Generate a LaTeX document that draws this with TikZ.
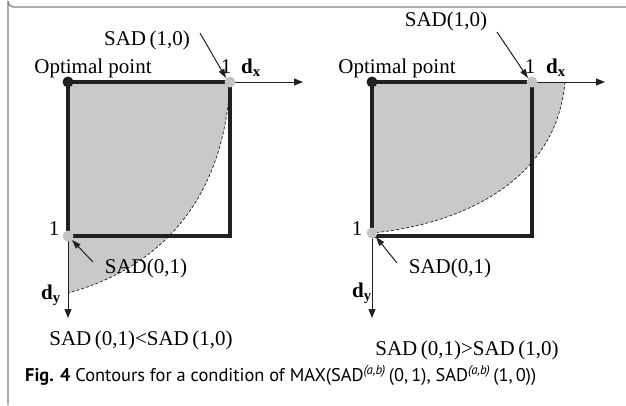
\documentclass[tikz,border=0pt]{standalone}
\usepackage{fontspec}
\setmainfont{Liberation Serif}
\newfontfamily\capfont{PT Sans}
\usetikzlibrary{arrows.meta}
\definecolor{ink}{HTML}{231F20}
\definecolor{shadegray}{HTML}{C8C9CB}
\definecolor{dotgray}{HTML}{C4C4C4}
\definecolor{framegray}{HTML}{808080}
\begin{document}
\begin{tikzpicture}[x=1pt,y=-1pt,
  sq/.style={draw=ink,line width=3.6pt,line cap=rect},
  axis/.style={draw=ink,line width=0.9pt,-{Triangle[length=9pt,width=7pt]}},
  pointer/.style={draw=ink,line width=1pt,-{Triangle[length=9pt,width=6pt]}},
  curve/.style={draw=ink,line width=0.7pt,dash pattern=on 3pt off 2pt},
  lbl/.style={font=\fontsize{21}{24}\selectfont,inner sep=0pt,anchor=base},
  dot/.style={circle,inner sep=0pt,minimum size=11pt}]
\useasboundingbox (0,0) rectangle (626,405);
% frame
\draw[framegray,line width=1.2pt] (626,7) -- (14,7) arc[start angle=90,end angle=180,radius=6] -- (8,405);

% ---------- left panel ----------
\coordinate (LO) at (68,82);
\coordinate (LX) at (230,82);
\coordinate (LY) at (68,236);
\coordinate (LC) at (68,293);
\fill[shadegray] (LO) -- (LX) .. controls (224,200) and (160,268) .. (LC) -- cycle;
\draw[curve] (LX) .. controls (224,200) and (160,268) .. (LC);
\draw[sq] (LO) rectangle (230,236);
\coordinate (LXE) at (303,82);
\coordinate (LYE) at (68,318);
\draw[axis] (LX) -- (LXE);
\draw[axis] (LY) -- (LYE);
\node[dot,fill=ink] (lopt) at (LO) {};
\node[dot,fill=dotgray] (l10) at (LX) {};
\node[dot,fill=dotgray] (l01) at (LY) {};
\node[lbl] (lopttxt) at (93,73) {Optimal point};
\node[lbl] (l10txt) at (147,45) {SAD\,(1,0)};
\node[lbl] (l01txt) at (146,273) {SAD(0,1)};
\node[lbl] (l1x) at (226,73) {1};
\node[lbl] (ldx) at (251,73) {$\mathbf{d}_{\mathbf{x}}$};
\node[lbl] (l1y) at (54,235) {1};
\node[lbl] (ldy) at (51,299) {$\mathbf{d}_{\mathbf{y}}$};
\coordinate (la1) at (200,33);
\coordinate (la2) at (93,262);
\draw[pointer] (la1) -- (l10.north west);
\draw[pointer] (la2) -- (l01.south east);
\node[lbl] (lcond) at (141,345) {SAD\,(0,1)<SAD\,(1,0)};

% ---------- right panel ----------
\coordinate (RO) at (372,82);
\coordinate (RX) at (532,82);
\coordinate (RE) at (565,82);
\coordinate (RY) at (372,233);
\fill[shadegray] (RO) -- (RE) .. controls (556,185) and (455,225) .. (RY) -- cycle;
\draw[curve] (RE) .. controls (556,185) and (455,225) .. (RY);
\draw[sq] (RO) rectangle (532,236);
\coordinate (RXE) at (605,82);
\coordinate (RYE) at (372,318);
\draw[axis] (RX) -- (RXE);
\draw[axis] (RY) -- (RYE);
\node[dot,fill=ink] (ropt) at (RO) {};
\node[dot,fill=dotgray] (r10) at (RX) {};
\node[dot,fill=dotgray] (r01) at (RY) {};
\node[lbl] (ropttxt) at (397,73) {Optimal point};
\node[lbl] (r10txt) at (446,26) {SAD(1,0)};
\node[lbl] (r01txt) at (450,273) {SAD(0,1)};
\node[lbl] (r1x) at (530,73) {1};
\node[lbl] (rdx) at (556,73) {$\mathbf{d}_{\mathbf{x}}$};
\node[lbl] (r1y) at (357,235) {1};
\node[lbl] (rdy) at (362,297) {$\mathbf{d}_{\mathbf{y}}$};
\coordinate (ra1) at (497,32);
\coordinate (ra2) at (397,263);
\draw[pointer] (ra1) -- (r10.north west);
\draw[pointer] (ra2) -- (r01.south east);
\node[lbl] (rcond) at (467,355) {SAD\,(0,1)>SAD\,(1,0)};

% caption
\node[anchor=base west,inner sep=0pt,font=\capfont\fontsize{18.4}{21}\selectfont] (cap) at (25,381)
  {\textbf{Fig. 4} Contours for a condition of MAX(SAD\textsuperscript{\itshape (a,b)}\,(0,\,1), SAD\textsuperscript{\itshape (a,b)}\,(1,\,0))};
\end{tikzpicture}
\end{document}
